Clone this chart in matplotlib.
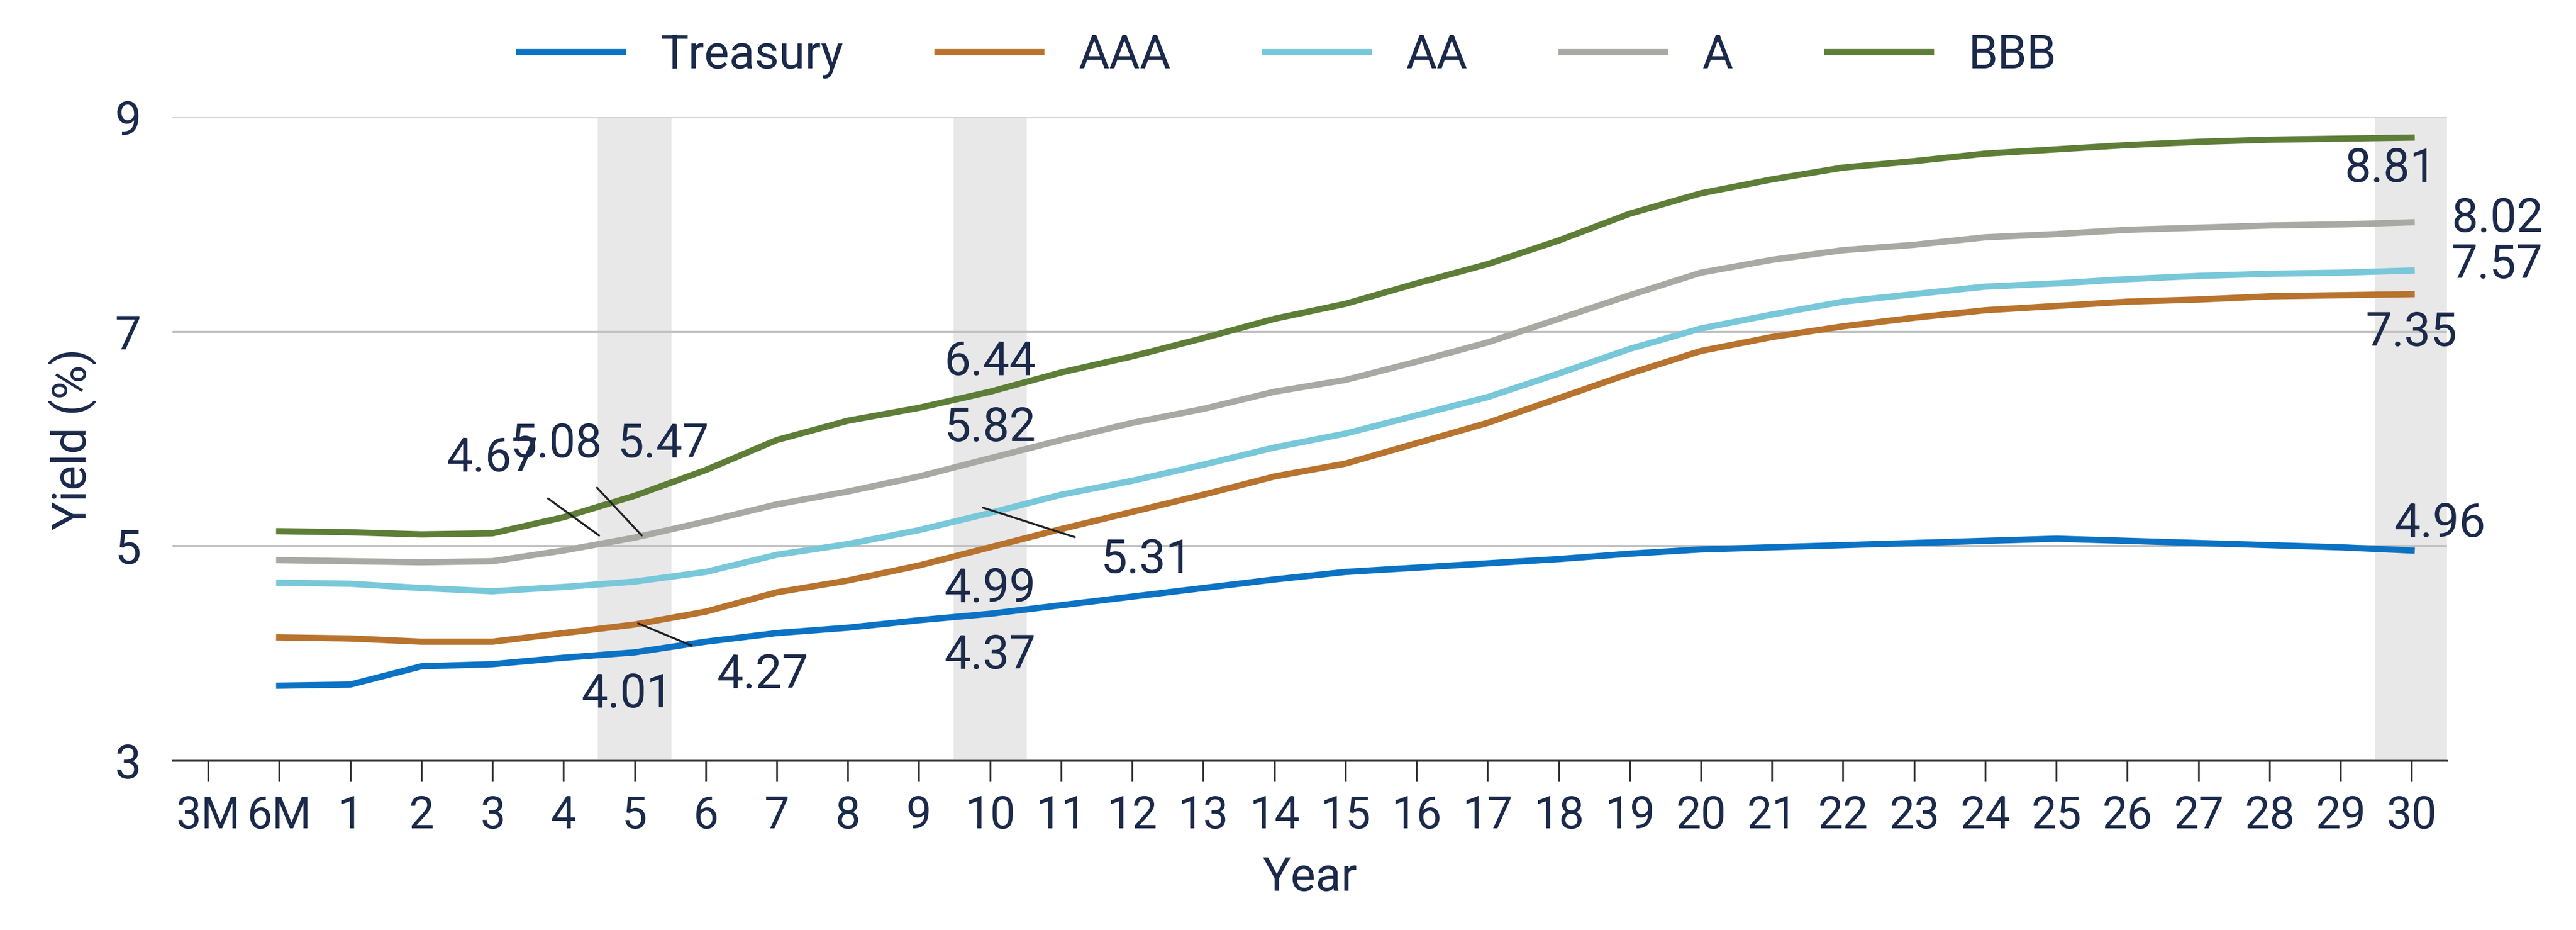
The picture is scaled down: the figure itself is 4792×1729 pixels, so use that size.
import matplotlib
matplotlib.use("Agg")
import matplotlib.pyplot as plt
import numpy as np

plt.rcParams["font.family"] = ["Roboto", "DejaVu Sans"]

categories = ["3M", "6M"] + [str(i) for i in range(1, 31)]
# values start at 6M (no 3M point)
treasury = [3.70, 3.71, 3.88, 3.90, 3.96, 4.01, 4.11, 4.19, 4.24, 4.31, 4.37, 4.45, 4.53, 4.61, 4.69, 4.76,
            4.80, 4.84, 4.88, 4.93, 4.97, 4.99, 5.01, 5.03, 5.05, 5.07, 5.05, 5.03, 5.01, 4.99, 4.96]
aaa = [4.15, 4.14, 4.11, 4.11, 4.19, 4.27, 4.39, 4.57, 4.68, 4.82, 4.99, 5.16, 5.32, 5.48, 5.65, 5.77,
       5.96, 6.15, 6.38, 6.61, 6.82, 6.95, 7.05, 7.13, 7.20, 7.24, 7.28, 7.30, 7.33, 7.34, 7.35]
aa = [4.66, 4.65, 4.61, 4.58, 4.62, 4.67, 4.76, 4.92, 5.02, 5.15, 5.31, 5.48, 5.61, 5.76, 5.92, 6.05,
      6.22, 6.39, 6.61, 6.84, 7.03, 7.16, 7.28, 7.35, 7.42, 7.45, 7.49, 7.52, 7.54, 7.55, 7.57]
a = [4.87, 4.86, 4.85, 4.86, 4.96, 5.08, 5.23, 5.39, 5.51, 5.65, 5.82, 5.99, 6.15, 6.28, 6.44, 6.55,
     6.72, 6.90, 7.12, 7.34, 7.55, 7.67, 7.76, 7.81, 7.88, 7.91, 7.95, 7.97, 7.99, 8.00, 8.02]
bbb = [5.14, 5.13, 5.11, 5.12, 5.27, 5.47, 5.71, 5.99, 6.17, 6.29, 6.44, 6.62, 6.77, 6.94, 7.12, 7.26,
       7.45, 7.63, 7.85, 8.10, 8.29, 8.42, 8.53, 8.59, 8.66, 8.70, 8.74, 8.77, 8.79, 8.80, 8.81]

series = [("Treasury", treasury, "#0b72c4"), ("AAA", aaa, "#b8732e"), ("AA", aa, "#78c8da"),
          ("A", a, "#a9a9a4"), ("BBB", bbb, "#5e7e38")]
highlight = ["5", "10", "30"]
TXT = "#1b2a4a"

fig = plt.figure(figsize=(4792 / 300, 1729 / 300), dpi=300)
ax = fig.add_axes([0.067, 0.182, 0.883, 0.692])
x = np.arange(1, len(categories))

for h in highlight:
    i = categories.index(h)
    ax.axvspan(i - 0.5, i + 0.5, color="#e8e8e8", zorder=0)

for name, vals, col in series:
    ax.plot(x, vals, color=col, lw=2.8, label=name, zorder=3)

ax.set_xlim(-0.5, 31.5)
ax.set_ylim(3, 9)
ax.set_yticks([3, 5, 7, 9])
ax.set_xticks(np.arange(len(categories)))
ax.set_xticklabels(categories)
ax.grid(axis="y", color="#bfbfbf", lw=0.9)
ax.set_axisbelow(True)
for s in ["top", "right", "left"]:
    ax.spines[s].set_visible(False)
ax.spines["bottom"].set_color("#333333")
ax.tick_params(axis="y", length=0, labelsize=21, colors=TXT, pad=14)
ax.tick_params(axis="x", length=9, color="#333333", labelsize=20, colors=TXT, pad=6)
ax.set_xlabel("Year", fontsize=21, color=TXT, labelpad=8)
ax.set_ylabel("Yield (%)", fontsize=21, color=TXT, labelpad=8)

fs = 21
def lab(t, xy, pos=None):
    if pos is None:
        ax.text(xy[0], xy[1], t, fontsize=fs, color=TXT, ha="center", va="center", zorder=5)
    else:
        ax.annotate(t, xy=xy, xytext=pos, fontsize=fs, color=TXT, ha="center", va="center", zorder=5,
                    arrowprops=dict(arrowstyle="-", color="#222222", lw=0.9, shrinkA=10, shrinkB=0))

i5, i10, i30 = categories.index("5"), categories.index("10"), categories.index("30")
lab("4.01", (i5 - 0.1, 3.62))
lab("4.27", (i5 + 0.05, 4.28), (i5 + 1.8, 3.80))
lab("4.67", (i5 - 0.5, 5.1), (i5 - 2.0, 5.82))
lab("5.08", (i5 + 0.1, 5.1), (i5 - 1.1, 5.95))
lab("5.47", (i5 + 0.4, 5.95))
lab("6.44", (i10, 6.72))
lab("5.82", (i10, 6.1))
lab("5.31", (i10 - 0.1, 5.36), (i10 + 2.2, 4.87))
lab("4.99", (i10, 4.6))
lab("4.37", (i10, 3.98))
lab("8.81", (i30 - 0.3, 8.52))
lab("8.02", (i30 + 1.2, 8.05))
lab("7.57", (i30 + 1.2, 7.62))
lab("7.35", (i30, 6.99))
lab("4.96", (i30 + 0.4, 5.21))

fig.legend(loc="upper center", bbox_to_anchor=(0.5, 1.01), ncol=5, frameon=False, fontsize=21,
           labelcolor=TXT, handlelength=2.2, columnspacing=2.0)
fig.savefig("out.png", dpi=300)
